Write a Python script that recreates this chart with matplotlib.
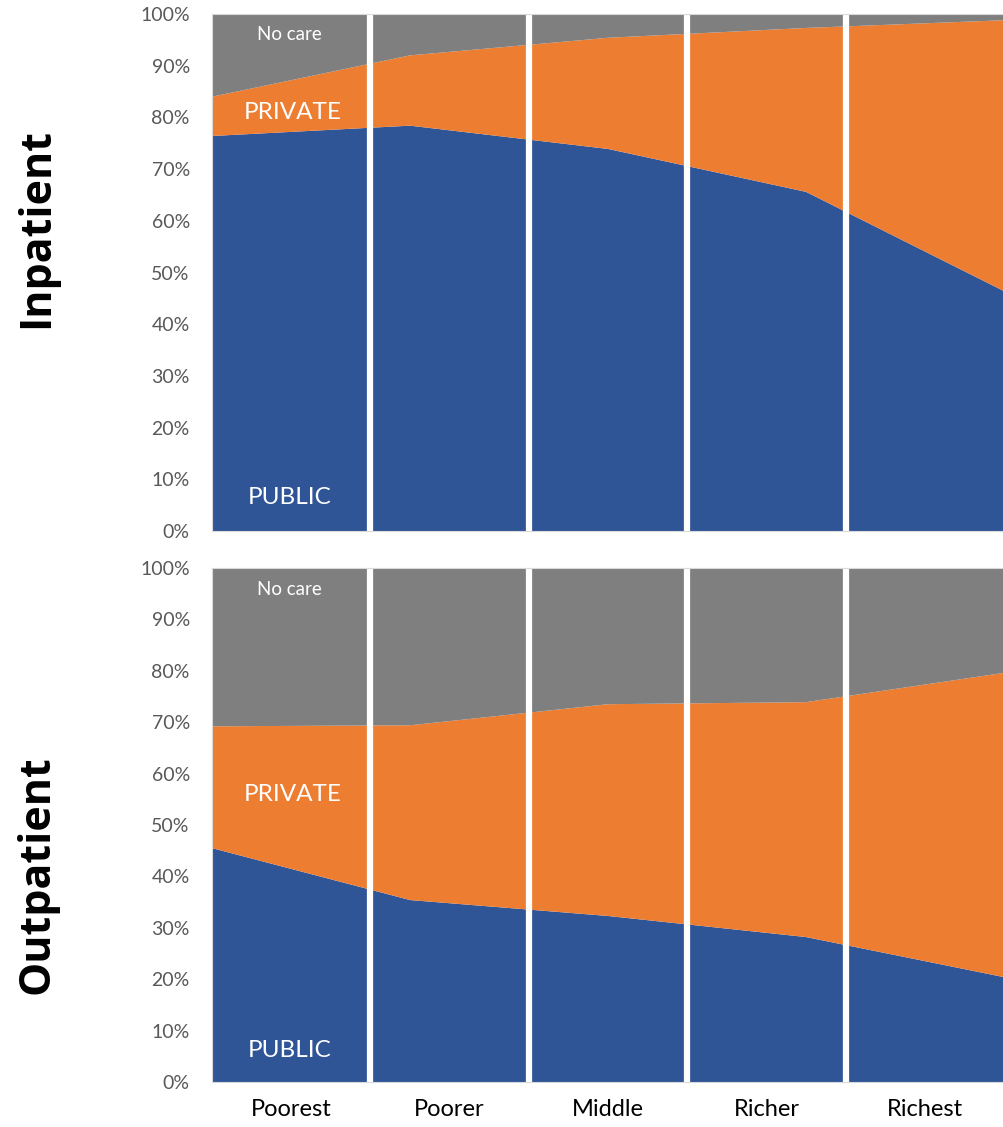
import numpy as np
import matplotlib
matplotlib.use("Agg")
import matplotlib.pyplot as plt
from matplotlib.ticker import PercentFormatter

# quintiles and stacked shares (%) read at the 5 data points
quintiles = ["Poorest", "Poorer", "Middle", "Richer", "Richest"]

inpat_public = [76.4, 78.4, 73.9, 65.6, 46.4]
inpat_private = [7.6, 13.6, 21.5, 31.7, 52.4]
inpat_nocare = [16.0, 8.0, 4.6, 2.7, 1.2]

outpat_public = [45.5, 35.4, 32.3, 28.2, 20.4]
outpat_private = [23.7, 34.0, 41.2, 45.7, 59.2]
outpat_nocare = [30.8, 30.6, 26.5, 26.1, 20.4]

colores = ["#2F5597", "#ED7D31", "#7F7F7F"]
FONT = "Lato"

W, H = 1004, 1127
fig = plt.figure(figsize=(W / 100, H / 100), dpi=100)


def panel(top_px, bot_px, public, private, nocare, titulo, titulo_y, text_pos, show_x):
    ax = fig.add_axes([212 / W, 1 - bot_px / H, (W - 212) / W, (bot_px - top_px) / H])
    x = np.arange(len(public))
    ax.stackplot(x, public, private, nocare, colors=colores, linewidth=0)
    ax.set_xlim(0, len(public) - 1)
    ax.set_ylim(0, 100)

    # separadores blancos entre quintiles
    ancho = (len(public) - 1) / len(quintiles)
    for k in range(1, len(quintiles)):
        ax.axvline(k * ancho, color="white", lw=4.5)

    ax.set_yticks(np.arange(0, 101, 10))
    ax.yaxis.set_major_formatter(PercentFormatter(decimals=0))
    ax.tick_params(axis="y", length=0, pad=16, labelsize=14, labelcolor="#595959")
    for lab in ax.get_yticklabels():
        lab.set_fontfamily(FONT)

    centros = [(k + 0.5) * ancho for k in range(len(quintiles))]
    ax.set_xticks(centros)
    if show_x:
        ax.set_xticklabels(quintiles, fontsize=17, fontfamily=FONT, color="black")
        ax.tick_params(axis="x", length=0, pad=12)
    else:
        ax.set_xticklabels([])
        ax.tick_params(axis="x", length=0)

    for s in ax.spines.values():
        s.set_color("#D9D9D9")
        s.set_linewidth(0.8)

    # etiquetas dentro del area
    (yn, yp, yu) = text_pos
    ax.text(0.39, yn, "No care", color="white", fontsize=13.5, fontfamily=FONT,
            ha="center", va="center")
    ax.text(0.41, yp, "PRIVATE", color="white", fontsize=17.5, fontfamily=FONT,
            ha="center", va="center")
    ax.text(0.39, yu, "PUBLIC", color="white", fontsize=17.5, fontfamily=FONT,
            ha="center", va="center")

    fig.text(37 / W, 1 - titulo_y / H, titulo, rotation=90,
             fontsize=31, fontweight="bold", fontfamily="Open Sans",
             ha="center", va="center")
    return ax


panel(14, 531, inpat_public, inpat_private, inpat_nocare, "Inpatient", 228,
      (96.0, 81.0, 6.4), False)
panel(568, 1082, outpat_public, outpat_private, outpat_nocare, "Outpatient", 875,
      (95.8, 56.0, 6.2), True)

fig.savefig("out.png", dpi=100)
